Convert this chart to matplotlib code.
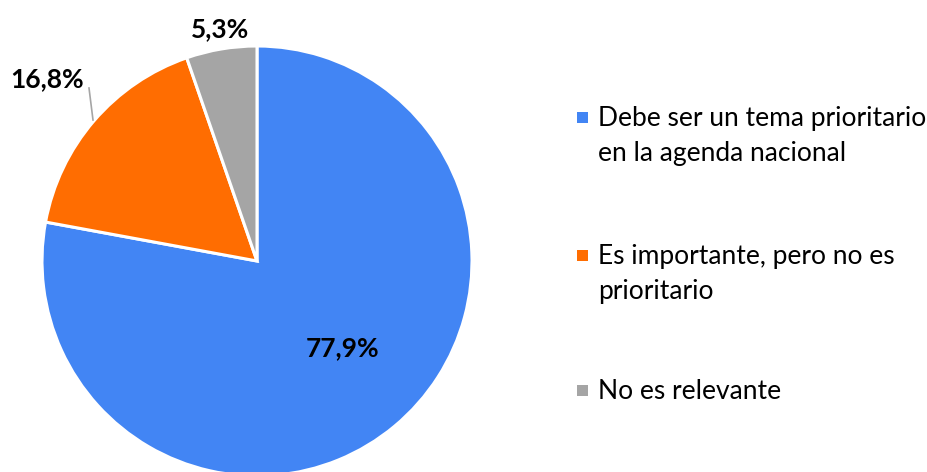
import matplotlib.pyplot as plt
from matplotlib.patches import Rectangle

plt.rcParams['font.family'] = ['Lato', 'DejaVu Sans']

# Survey answers and shares (%)
categories = ['Debe ser un tema prioritario\nen la agenda nacional',
              'Es importante, pero no es\nprioritario',
              'No es relevante']
values = [77.9, 16.8, 5.3]
labels = ['77,9%', '16,8%', '5,3%']
colors = ['#4285F4', '#FF6D01', '#A5A5A5']

fig = plt.figure(figsize=(9.28, 4.72), dpi=100)
ax = fig.add_axes([0, 0, 1, 1])

# pie in pixel-like coordinates
wedges, _ = ax.pie(values, colors=colors, startangle=90, counterclock=False,
                   center=(257, 211), radius=215,
                   wedgeprops=dict(edgecolor='white', linewidth=2.2))
ax.set_xlim(0, 928)
ax.set_ylim(0, 472)
ax.set_aspect('equal')
ax.axis('off')

# data labels
ax.text(343, 124, labels[0], ha='center', va='center', fontsize=19, fontweight='bold')
ax.text(47, 393, labels[1], ha='center', va='center', fontsize=19, fontweight='bold')
ax.text(220, 443, labels[2], ha='center', va='center', fontsize=19, fontweight='bold')
ax.plot([89, 93], [384, 352], color='#A5A5A5', linewidth=1.2)

# legend drawn by hand
legend_y = [355, 217, 82]
for cat, col, y in zip(categories, colors, legend_y):
    ax.add_patch(Rectangle((577, y - 6), 11, 11, facecolor=col, edgecolor='none'))
    ax.text(598, y + 11, cat, ha='left', va='top', fontsize=19,
            linespacing=1.5, color='black')

fig.savefig('out.png', dpi=100)
